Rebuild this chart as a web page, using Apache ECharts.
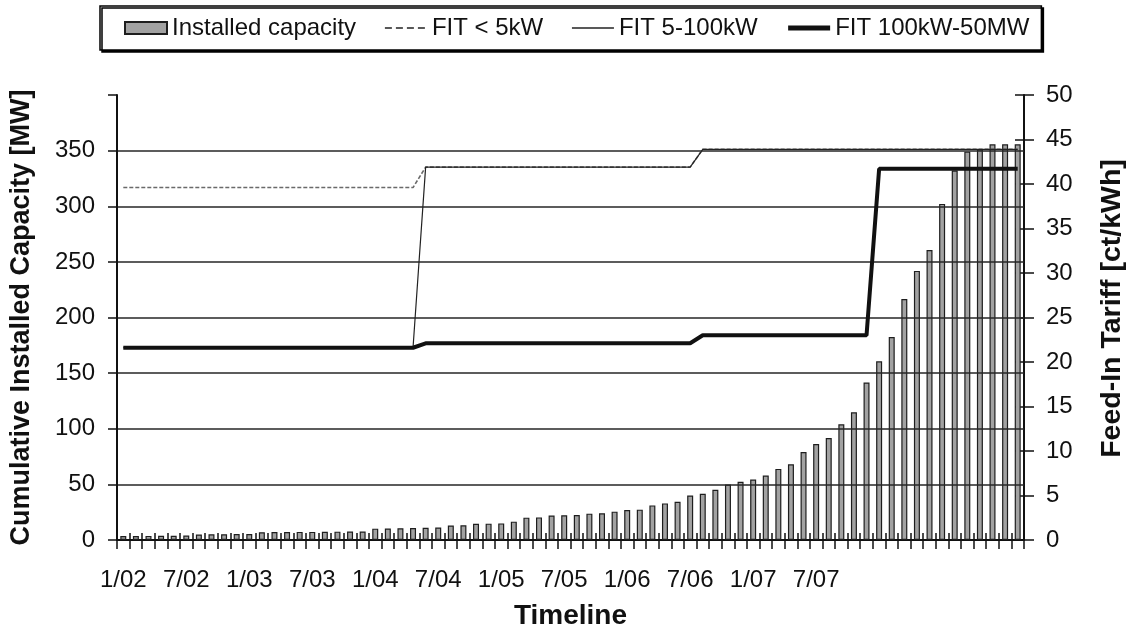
<!DOCTYPE html>
<html>
<head>
<meta charset="utf-8">
<script src="https://cdn.jsdelivr.net/npm/echarts@6/dist/echarts.min.js"></script>
<style>
  html, body { margin: 0; padding: 0; background: #fff; }
  #chart { width: 1135px; height: 635px; }
</style>
</head>
<body>
<div id="chart"></div>
<script>
// Axis tick labels shown under every fifth period
const tickLabels = ['1/02', '7/02', '1/03', '7/03', '1/04', '7/04', '1/05', '7/05', '1/06', '7/06', '1/07', '7/07'];

// Cumulative installed capacity per period [MW]
const capacity = [
  3.5, 3.6, 3.7, 3.8, 3.8, 4.0, 5.0, 5.1, 5.2, 5.3,
  5.4, 7.0, 7.1, 7.2, 7.3, 7.3, 7.4, 7.5, 7.6, 7.7,
  10.2, 10.4, 10.6, 10.8, 11.0, 11.2, 13.0, 13.2, 14.5, 14.7,
  14.9, 16.5, 20.1, 20.3, 22.0, 22.2, 22.4, 23.7, 24.0, 25.5,
  27.0, 27.3, 31.1, 32.9, 34.4, 40.0, 41.5, 45.1, 49.9, 52.3,
  54.3, 57.9, 63.9, 68.0, 79.0, 86.2, 91.6, 104.0, 114.8, 141.6,
  160.6, 182.4, 216.6, 241.9, 260.7, 302.1, 332.1, 349.1, 351.2, 355.7,
  355.7, 355.7
];

// Feed-in tariffs [ct/kWh] as [period index, value] break points
const fitBelow5kW = [[0, 39.6], [23, 39.6], [24, 41.9], [45, 41.9], [46, 43.9], [71, 43.9]];
const fit5to100kW = [[0, 21.6], [23, 21.6], [24, 41.9], [45, 41.9], [46, 43.9], [71, 43.9]];
const fit100kWto50MW = [[0, 21.6], [23, 21.6], [24, 22.1], [45, 22.1], [46, 23.0], [59, 23.0], [60, 41.7], [71, 41.7]];

const periods = capacity.map((_, i) => String(i));

const FONT = 'Liberation Sans, Arial, Helvetica, sans-serif';
const INK = '#111';
// Legend line entries: line only, no marker
const noMarker = { opacity: 0, borderWidth: 0 };

const chart = echarts.init(document.getElementById('chart'), null, { renderer: 'canvas' });

chart.setOption({
  animation: false,
  backgroundColor: '#fff',
  textStyle: { fontFamily: FONT, color: INK },
  grid: { left: 117, right: 103, top: 95, bottom: 92.5, containLabel: false },
  legend: {
    left: 100,
    top: 6,
    padding: [10, 12, 10, 24],
    itemWidth: 42,
    itemHeight: 12,
    itemGap: 28,
    borderColor: '#000',
    borderWidth: 1.5,
    backgroundColor: '#fff',
    shadowColor: '#000',
    shadowOffsetX: 2,
    shadowOffsetY: 2,
    shadowBlur: 0,
    textStyle: { fontSize: 24, color: INK, fontFamily: FONT },
    data: [
      { name: 'Installed capacity', icon: 'rect' },
      { name: 'FIT < 5kW', itemStyle: noMarker, lineStyle: { color: '#222', width: 1.6, type: [7, 4] } },
      { name: 'FIT 5-100kW', itemStyle: noMarker, lineStyle: { color: '#222', width: 1.4, type: 'solid' } },
      { name: 'FIT 100kW-50MW', itemStyle: noMarker, lineStyle: { color: '#111', width: 5, type: 'solid' } }
    ]
  },
  xAxis: [
    {
      type: 'category',
      data: periods,
      position: 'bottom',
      axisLine: { show: true, lineStyle: { color: INK, width: 2 } },
      axisTick: { show: true, interval: 0, length: 9, lineStyle: { color: INK, width: 1.5 } },
      axisLabel: {
        interval: 4,
        margin: 28,
        fontSize: 24,
        color: INK,
        formatter: (v, i) => tickLabels[i / 5] || ''
      },
      name: 'Timeline',
      nameLocation: 'middle',
      nameGap: 62,
      nameTextStyle: { fontSize: 28, fontWeight: 'bold', color: INK }
    },
    {
      type: 'category',
      data: periods,
      position: 'bottom',
      axisLine: { show: false },
      axisTick: { show: true, inside: true, interval: 0, length: 7, lineStyle: { color: INK, width: 1.5 } },
      axisLabel: { show: false },
      splitLine: { show: false }
    }
  ],
  yAxis: [
    {
      type: 'value',
      position: 'left',
      min: 0,
      max: 400,
      interval: 50,
      z: 3,
      axisLine: { show: true, lineStyle: { color: INK, width: 2 } },
      axisTick: { show: true, length: 9, lineStyle: { color: INK, width: 1.5 } },
      axisLabel: {
        margin: 22,
        fontSize: 24,
        color: INK,
        formatter: v => (v === 400 ? '' : String(v))
      },
      splitLine: {
        show: true,
        lineStyle: {
          width: 1.5,
          color: ['rgba(0,0,0,0)', '#262626', '#262626', '#262626', '#262626', '#262626', '#262626', '#262626', 'rgba(0,0,0,0)']
        }
      },
      name: 'Cumulative Installed Capacity [MW]',
      nameLocation: 'middle',
      nameRotate: 90,
      nameGap: 82,
      nameTextStyle: { fontSize: 27, fontWeight: 'bold', color: INK }
    },
    {
      type: 'value',
      position: 'right',
      min: 0,
      max: 50,
      interval: 5,
      axisLine: { show: true, lineStyle: { color: INK, width: 2 } },
      axisTick: { show: true, length: 10, lineStyle: { color: INK, width: 1.5 } },
      axisLabel: { margin: 22, fontSize: 24, color: INK },
      splitLine: { show: false },
      name: 'Feed-In Tariff [ct/kWh]',
      nameLocation: 'middle',
      nameRotate: 90,
      nameGap: 74,
      nameTextStyle: { fontSize: 28.5, fontWeight: 'bold', color: INK, padding: [0, 0, 0, 18] }
    },
    {
      type: 'value',
      position: 'right',
      min: 0,
      max: 50,
      interval: 5,
      axisLine: { show: false },
      axisTick: { show: true, inside: true, length: 9, lineStyle: { color: INK, width: 1.5 } },
      axisLabel: { show: false },
      splitLine: { show: false }
    }
  ],
  series: [
    {
      name: 'Installed capacity',
      type: 'bar',
      xAxisIndex: 0,
      yAxisIndex: 0,
      data: capacity,
      barWidth: 6,
      z: 2,
      itemStyle: { color: '#a2a2a2', borderColor: '#1e1e1e', borderWidth: 1.2 }
    },
    {
      name: 'FIT < 5kW',
      type: 'line',
      xAxisIndex: 0,
      yAxisIndex: 1,
      data: fitBelow5kW,
      symbol: 'none',
      z: 4,
      itemStyle: { color: '#555' },
      lineStyle: { color: '#6a6a6a', width: 1.6, type: [4, 2] }
    },
    {
      name: 'FIT 5-100kW',
      type: 'line',
      xAxisIndex: 0,
      yAxisIndex: 1,
      data: fit5to100kW,
      symbol: 'none',
      z: 5,
      itemStyle: { color: '#222' },
      lineStyle: { color: '#222', width: 1.2 }
    },
    {
      name: 'FIT 100kW-50MW',
      type: 'line',
      xAxisIndex: 0,
      yAxisIndex: 1,
      data: fit100kWto50MW,
      symbol: 'none',
      z: 6,
      itemStyle: { color: '#111' },
      lineStyle: { color: '#111', width: 4 }
    }
  ]
});
</script>
</body>
</html>
